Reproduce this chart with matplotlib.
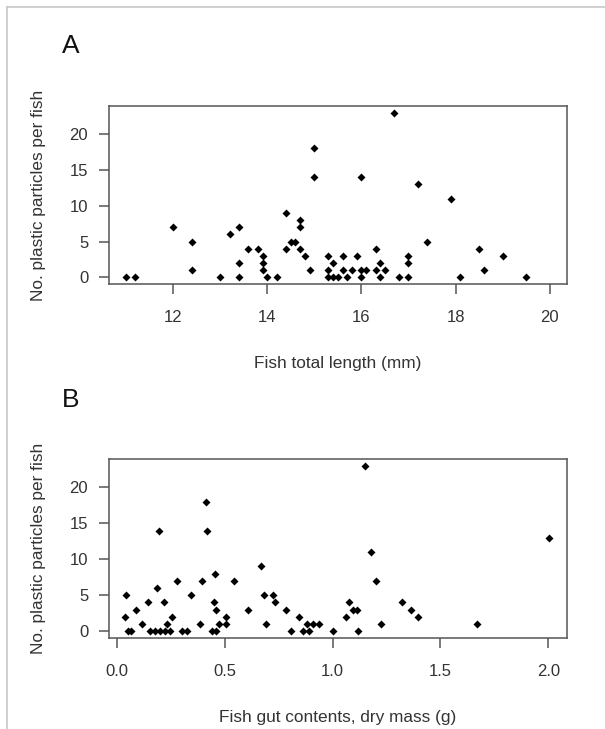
import matplotlib
matplotlib.use("Agg")
import matplotlib.pyplot as plt
from matplotlib.lines import Line2D

plt.rcParams['font.family'] = ['Liberation Sans', 'DejaVu Sans']

# Panel A: fish total length (mm) vs plastic count
length_mm = [11.0, 11.2, 12.0, 12.4, 12.4, 13.0, 13.2, 13.4, 13.4, 13.4,
             13.6, 13.8, 13.9, 13.9, 13.9, 14.0, 14.2, 14.4, 14.4, 14.5,
             14.6, 14.7, 14.7, 14.7, 14.8, 14.9, 15.0, 15.0, 15.3, 15.3,
             15.3, 15.4, 15.4, 15.5, 15.6, 15.6, 15.7, 15.8, 15.9, 16.0,
             16.0, 16.0, 16.1, 16.3, 16.3, 16.4, 16.4, 16.5, 16.7, 16.8,
             17.0, 17.0, 17.0, 17.2, 17.4, 17.9, 18.1, 18.5, 18.6, 19.0,
             19.5]
count_a = [0, 0, 7, 5, 1, 0, 6, 7, 2, 0,
           4, 4, 3, 2, 1, 0, 0, 9, 4, 5,
           5, 8, 7, 4, 3, 1, 18, 14, 3, 1,
           0, 2, 0, 0, 3, 1, 0, 1, 3, 14,
           1, 0, 1, 4, 1, 2, 0, 1, 23, 0,
           3, 2, 0, 13, 5, 11, 0, 4, 1, 3,
           0]

# Panel B: gut contents dry mass (g) vs plastic count
gut_mass_g = [0.045, 0.038, 0.05, 0.068, 0.09, 0.119, 0.143, 0.155, 0.178, 0.185,
              0.196, 0.2, 0.22, 0.224, 0.232, 0.247, 0.255, 0.278, 0.301, 0.325,
              0.346, 0.386, 0.394, 0.414, 0.419, 0.442, 0.45, 0.456, 0.462, 0.462,
              0.474, 0.505, 0.505, 0.544, 0.61, 0.668, 0.681, 0.692, 0.723, 0.731,
              0.782, 0.808, 0.845, 0.865, 0.881, 0.891, 0.911, 0.935, 1.0, 1.062,
              1.075, 1.094, 1.113, 1.12, 1.15, 1.179, 1.202, 1.225, 1.321, 1.363,
              1.398, 1.669, 2.003]
count_b = [5, 2, 0, 0, 3, 1, 4, 0, 0, 6,
           14, 0, 4, 0, 1, 0, 2, 7, 0, 0,
           5, 1, 7, 18, 14, 0, 4, 8, 0, 3,
           1, 2, 1, 7, 3, 9, 5, 1, 5, 4,
           3, 0, 2, 0, 1, 0, 1, 1, 0, 2,
           4, 3, 3, 0, 23, 11, 7, 1, 4, 3,
           2, 1, 13]

y_ticks = [0, 5, 10, 15, 20]
x_ticks_a = [12, 14, 16, 18, 20]
x_ticks_b = [0.0, 0.5, 1.0, 1.5, 2.0]
x_ticklabels_b = ['0.0', '0.5', '1.0', '1.5', '2.0']

frame_col = '#555555'
text_col = '#333333'

fig = plt.figure(figsize=(6.05, 7.29), dpi=100)

# thin grey border along top and left edge
fig.add_artist(Line2D([7 / 605, 1], [1 - 7 / 729, 1 - 7 / 729],
                      transform=fig.transFigure, color='#c8c8c8', lw=1.2))
fig.add_artist(Line2D([7 / 605, 7 / 605], [0, 1 - 7 / 729],
                      transform=fig.transFigure, color='#c8c8c8', lw=1.2))

ax_a = fig.add_axes([0.1802, 0.6104, 0.7565, 0.2442])
ax_b = fig.add_axes([0.1802, 0.1252, 0.7565, 0.2448])


def style(ax, xlabel):
    for sp in ax.spines.values():
        sp.set_color(frame_col)
        sp.set_linewidth(1.1)
    ax.tick_params(direction='out', length=7, width=1.1, color=frame_col,
                   labelsize=12, labelcolor=text_col)
    ax.tick_params(axis='x', pad=12)
    ax.tick_params(axis='y', pad=8)
    ax.set_yticks(y_ticks)
    ax.set_ylim(-0.92, 23.92)
    ax.set_ylabel('No. plastic particles per fish', fontsize=12.4,
                  color=text_col, labelpad=17)
    ax.set_xlabel(xlabel, fontsize=12.4, color=text_col, labelpad=22)


ax_a.plot(length_mm, count_a, linestyle='none', marker='D', ms=4.3,
          mec='none', color='black')
ax_a.set_xlim(10.64, 20.36)
ax_a.set_xticks(x_ticks_a)
style(ax_a, 'Fish total length (mm)')

ax_b.plot(gut_mass_g, count_b, linestyle='none', marker='D', ms=4.3,
          mec='none', color='black')
ax_b.set_xlim(-0.036, 2.085)
ax_b.set_xticks(x_ticks_b)
ax_b.set_xticklabels(x_ticklabels_b)
style(ax_b, 'Fish gut contents, dry mass (g)')

fig.text(71 / 605, 1 - 46 / 729, 'A', fontsize=19, color='#111111',
         ha='center', va='center')
fig.text(71 / 605, 1 - 400 / 729, 'B', fontsize=19, color='#111111',
         ha='center', va='center')

fig.savefig('out.png', dpi=100)
